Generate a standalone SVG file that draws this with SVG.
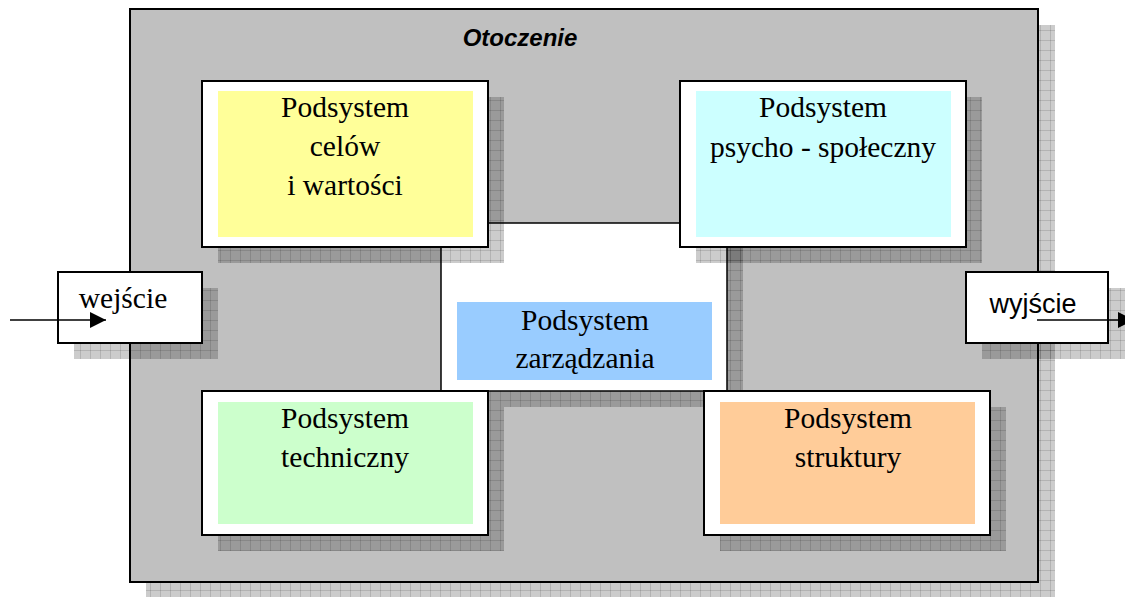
<svg xmlns="http://www.w3.org/2000/svg" width="1125" height="597" viewBox="0 0 1125 597">
  <defs>
    <!-- translucent grid shadow -->
    <pattern id="grid" width="10" height="10" patternUnits="userSpaceOnUse">
      <rect width="10" height="10" fill="#000" fill-opacity="0.2"/>
      <path d="M0 0.5H10M0.5 0V10" stroke="#000" stroke-opacity="0.12" stroke-width="1" fill="none"/>
    </pattern>
    <marker id="arrow" viewBox="0 0 16 16" refX="16" refY="8" markerWidth="16" markerHeight="16" markerUnits="userSpaceOnUse" orient="auto">
      <path d="M0 0L16 8L0 16Z" fill="#000"/>
    </marker>
    <style>
      .shadow { fill: url(#grid); }
      .box { fill: #fff; stroke: #000; stroke-width: 2; }
      .serif { font-family: "Liberation Serif", "Times New Roman", serif; font-size: 29.5px; fill: #000; text-anchor: middle; }
      .sans { font-family: "Liberation Sans", Arial, sans-serif; fill: #000; }
      .link { stroke: #000; stroke-width: 1.5; fill: none; }
    </style>
  </defs>

  <rect width="1125" height="597" fill="#fff"/>

  <!-- environment frame -->
  <g id="otoczenie">
    <rect class="shadow" x="146" y="25" width="909" height="572"/>
    <rect x="130" y="9" width="908" height="573" fill="#c0c0c0" stroke="#000" stroke-width="2"/>
    <text class="sans" x="520" y="46" font-size="24" font-weight="bold" font-style="italic" text-anchor="middle">Otoczenie</text>
  </g>

  <!-- central management subsystem -->
  <g id="zarzadzania">
    <rect class="shadow" x="457" y="239" width="286" height="168"/>
    <rect x="441" y="223" width="286" height="168" fill="#fff" stroke="#000" stroke-width="1.5"/>
    <rect x="457" y="302" width="255" height="78" fill="#99ccff"/>
    <text class="serif" x="585" y="330">Podsystem</text>
    <text class="serif" x="585" y="368">zarządzania</text>
  </g>

  <g id="celow">
    <rect class="shadow" x="218" y="97" width="286" height="166"/>
    <rect class="box" x="202" y="81" width="286" height="166"/>
    <rect x="218" y="91" width="255" height="146" fill="#ffff99"/>
    <text class="serif" x="345" y="117">Podsystem</text>
    <text class="serif" x="345" y="156">celów</text>
    <text class="serif" x="345" y="195">i wartości</text>
  </g>

  <g id="psychospoleczny">
    <rect class="shadow" x="696" y="97" width="286" height="166"/>
    <rect class="box" x="680" y="81" width="286" height="166"/>
    <rect x="696" y="91" width="255" height="146" fill="#ccffff"/>
    <text class="serif" x="823" y="117">Podsystem</text>
    <text class="serif" x="823" y="157">psycho - społeczny</text>
  </g>

  <g id="techniczny">
    <rect class="shadow" x="218" y="407" width="286" height="144"/>
    <rect class="box" x="202" y="391" width="286" height="144"/>
    <rect x="218" y="402" width="255" height="122" fill="#ccffcc"/>
    <text class="serif" x="345" y="428">Podsystem</text>
    <text class="serif" x="345" y="467">techniczny</text>
  </g>

  <g id="struktury">
    <rect class="shadow" x="720" y="407" width="286" height="144"/>
    <rect class="box" x="704" y="391" width="286" height="144"/>
    <rect x="720" y="402" width="255" height="122" fill="#ffcc99"/>
    <text class="serif" x="848" y="428">Podsystem</text>
    <text class="serif" x="848" y="467">struktury</text>
  </g>

  <g id="wejscie">
    <rect class="shadow" x="74" y="288" width="144" height="71"/>
    <rect class="box" x="58" y="272" width="144" height="71"/>
    <text class="serif" x="123" y="308">wejście</text>
  </g>

  <g id="wyjscie">
    <rect class="shadow" x="982" y="288" width="143" height="71"/>
    <rect class="box" x="966" y="272" width="142" height="71"/>
    <text class="sans" x="1033" y="313" font-size="27" text-anchor="middle">wyjście</text>
  </g>

  <!-- flow arrows -->
  <g id="connectors">
    <line class="link" x1="10" y1="320" x2="106" y2="320" marker-end="url(#arrow)"/>
    <line class="link" x1="1037" y1="320" x2="1134" y2="320" marker-end="url(#arrow)"/>
  </g>
</svg>
